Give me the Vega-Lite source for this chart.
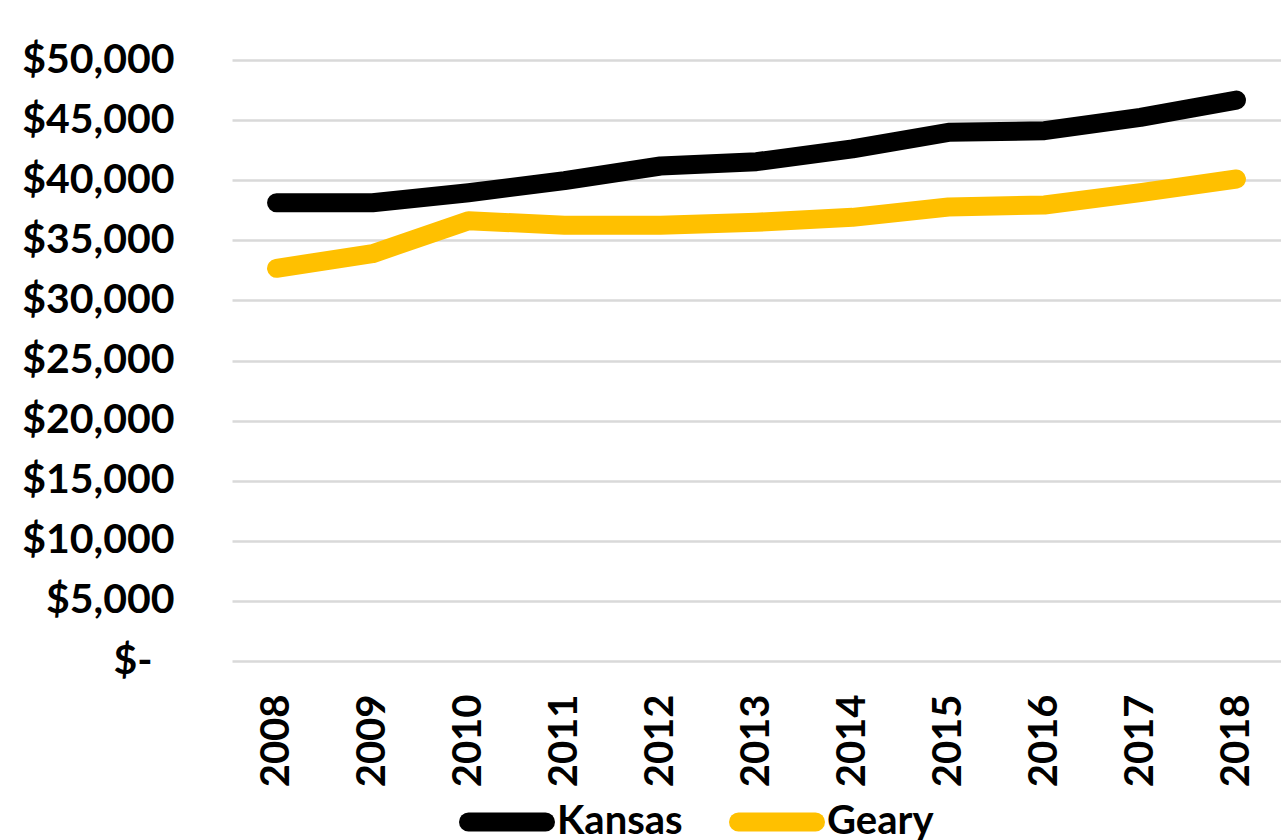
{
  "$schema": "https://vega.github.io/schema/vega-lite/v6.json",
  "autosize": "none",
  "width": 1049,
  "height": 601,
  "padding": {"left": 232, "top": 60, "right": 0, "bottom": 179},
  "background": "white",
  "config": {
    "view": {"stroke": null},
    "font": "Lato"
  },
  "data": {
    "values": [
      {"year": "2008", "series": "Kansas", "income": 38130},
      {"year": "2009", "series": "Kansas", "income": 38130},
      {"year": "2010", "series": "Kansas", "income": 38960},
      {"year": "2011", "series": "Kansas", "income": 39960},
      {"year": "2012", "series": "Kansas", "income": 41180},
      {"year": "2013", "series": "Kansas", "income": 41540},
      {"year": "2014", "series": "Kansas", "income": 42600},
      {"year": "2015", "series": "Kansas", "income": 43980},
      {"year": "2016", "series": "Kansas", "income": 44120},
      {"year": "2017", "series": "Kansas", "income": 45230},
      {"year": "2018", "series": "Kansas", "income": 46670},
      {"year": "2008", "series": "Geary", "income": 32670},
      {"year": "2009", "series": "Geary", "income": 33890},
      {"year": "2010", "series": "Geary", "income": 36630},
      {"year": "2011", "series": "Geary", "income": 36250},
      {"year": "2012", "series": "Geary", "income": 36250},
      {"year": "2013", "series": "Geary", "income": 36500},
      {"year": "2014", "series": "Geary", "income": 36910},
      {"year": "2015", "series": "Geary", "income": 37770},
      {"year": "2016", "series": "Geary", "income": 37940},
      {"year": "2017", "series": "Geary", "income": 38960},
      {"year": "2018", "series": "Geary", "income": 40100}
    ]
  },
  "mark": {"type": "line", "strokeWidth": 19, "strokeCap": "round", "strokeJoin": "round"},
  "encoding": {
    "x": {
      "field": "year",
      "type": "ordinal",
      "scale": {"type": "point", "padding": 0.464},
      "axis": {
        "title": null,
        "domain": false,
        "ticks": false,
        "grid": false,
        "labelAngle": 270,
        "labelAlign": "right",
        "labelBaseline": "middle",
        "labelPadding": 33,
        "labelFont": "Lato",
        "labelFontWeight": "bold",
        "labelFontSize": 40,
        "labelColor": "#000000"
      }
    },
    "y": {
      "field": "income",
      "type": "quantitative",
      "scale": {"domain": [0, 50000], "nice": false, "zero": true},
      "axis": {
        "title": null,
        "domain": false,
        "ticks": false,
        "values": [0, 5000, 10000, 15000, 20000, 25000, 30000, 35000, 40000, 45000, 50000],
        "grid": true,
        "gridColor": "#d9d9d9",
        "gridWidth": 2.5,
        "labelPadding": {"condition": {"test": "datum.value == 0", "value": 80}, "value": 58},
        "labelFont": "Lato",
        "labelFontWeight": "bold",
        "labelFontSize": 41,
        "labelColor": "#000000",
        "labelExpr": "datum.value == 0 ? '$-' : '$' + format(datum.value, ',')"
      }
    },
    "color": {
      "field": "series",
      "type": "nominal",
      "scale": {"domain": ["Kansas", "Geary"], "range": ["#000000", "#ffc000"]},
      "legend": {
        "title": null,
        "orient": "none",
        "direction": "horizontal",
        "legendX": 227,
        "legendY": 714,
        "padding": 0,
        "symbolType": "stroke",
        "symbolSize": 5929,
        "symbolStrokeWidth": 19,
        "labelOffset": 2,
        "columnPadding": 17,
        "labelFont": "Lato",
        "labelFontWeight": "bold",
        "labelFontSize": 40,
        "labelColor": "#000000",
        "encode": {
          "symbols": {"update": {"strokeCap": {"value": "round"}}}
        }
      }
    }
  }
}
